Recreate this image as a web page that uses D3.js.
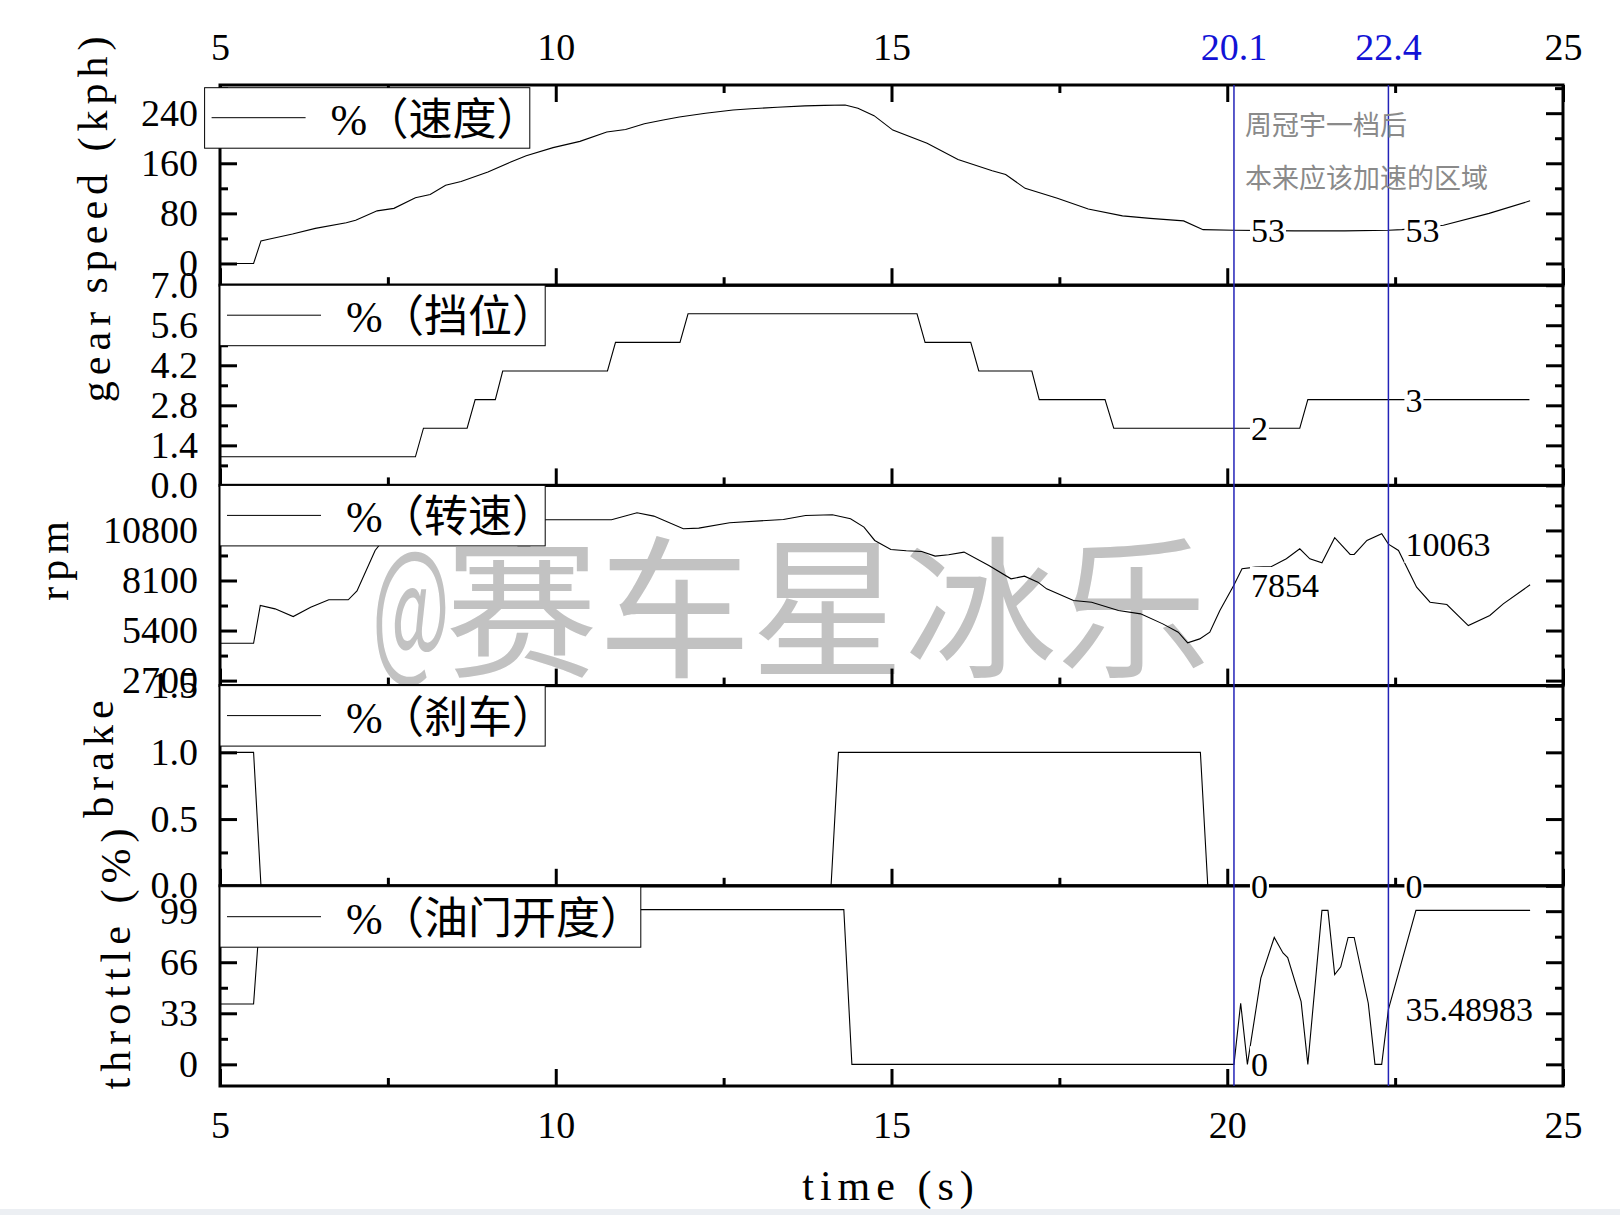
<!DOCTYPE html>
<html>
<head>
<meta charset="utf-8">
<script src="https://cdn.jsdelivr.net/npm/d3@7"></script>
<style>
  body { margin: 0; background: #fff; }
</style>
</head>
<body>
<svg id="chart" width="1620" height="1215"></svg>
<script>

// values
var speedT = [5, 5.5, 5.61, 5.74, 6.08, 6.42, 6.88, 7.02, 7.34, 7.59, 7.91, 8.13, 8.36, 8.59, 8.99, 9.33, 9.56, 9.96, 10.36, 10.76, 11.04, 11.32, 11.6, 11.84, 12.23, 12.64, 12.91, 13.3, 13.71, 14.0, 14.31, 14.5, 14.74, 15.02, 15.53, 15.99, 16.5, 16.7, 16.99, 17.47, 17.93, 18.44, 18.85, 19.35, 19.64, 20.1, 21.0, 21.75, 22.4, 22.6, 23.22, 23.9, 24.51];
var speedV = [0, 0, 36, 39, 47, 56, 65, 69, 84, 88, 105, 110, 125, 131, 146, 162, 172, 185, 195, 210, 214, 223, 229, 234, 240, 245, 247, 249.5, 251.7, 252.5, 253, 248, 236, 213, 192, 166, 148, 142, 120, 104, 87, 76, 72, 68, 54, 53, 52, 52, 53, 54, 61, 80, 100];

var gearT = [5, 7.91, 8.03, 8.68, 8.8, 9.1, 9.21, 10.77, 10.89, 11.85, 11.97, 15.38, 15.5, 16.18, 16.3, 17.09, 17.2, 18.18, 18.31, 21.08, 21.2, 24.5];
var gearV = [1, 1, 2, 2, 3, 3, 4, 4, 5, 5, 6, 6, 5, 5, 4, 4, 3, 3, 2, 2, 3, 3];

var rpmT = [5, 5.5, 5.6, 5.82, 6.09, 6.35, 6.62, 6.91, 7.04, 7.31, 7.5, 7.8, 8.5, 9.2, 9.87, 10.83, 11.21, 11.46, 11.9, 12.13, 12.59, 13.39, 13.72, 14.12, 14.39, 14.59, 14.75, 14.99, 15.22, 15.45, 15.65, 15.85, 16.08, 16.45, 16.78, 16.98, 17.18, 17.31, 17.71, 17.98, 18.38, 18.71, 19.04, 19.27, 19.41, 19.59, 19.74, 19.89, 20.1, 20.22, 20.42, 20.66, 20.88, 21.08, 21.23, 21.41, 21.6, 21.83, 21.89, 22.08, 22.3, 22.4, 22.55, 22.82, 23.02, 23.27, 23.59, 23.91, 24.11, 24.51];
var rpmV = [4714, 4714, 6750, 6570, 6156, 6660, 7060, 7060, 7540, 9720, 10600, 11200, 11300, 11350, 11378, 11378, 11754, 11574, 10892, 10924, 11214, 11394, 11610, 11646, 11430, 10980, 10260, 9774, 9702, 9666, 9414, 9486, 9630, 8910, 8190, 8334, 8010, 7650, 7020, 6930, 6480, 6300, 5760, 5310, 4740, 4950, 5310, 6480, 7854, 8730, 8820, 8856, 9270, 9810, 9270, 9054, 10406, 9504, 9504, 10260, 10620, 10063, 9720, 7740, 6930, 6804, 5670, 6210, 6840, 7868];

var brakeT = [5, 5.5, 5.61, 14.1, 14.21, 19.6, 19.71, 24.51];
var brakeV = [1, 1, 0, 0, 1, 1, 0, 0];

var throttleT = [5, 5.5, 5.56, 5.65, 14.29, 14.41, 20.1, 20.2, 20.3, 20.5, 20.7, 20.83, 20.9, 21.1, 21.2, 21.41, 21.5, 21.6, 21.69, 21.8, 21.89, 22.1, 22.2, 22.3, 22.4, 22.81, 24.51];
var throttleV = [39, 39, 75, 100, 100, 0, 0, 39.5, 0, 55.7, 82, 72, 69, 40.5, 0, 99.5, 99.5, 58, 63, 82, 82, 39.5, 0, 0, 35.48983, 99.5, 99.5];

// axis ranges and ticks
var speedDomain = [-34.7, 285], speedTicks = [0, 80, 160, 240], speedMinor = [40, 120, 200, 280];
var gearDomain = [0, 7], gearTicks = [0, 1.4, 2.8, 4.2, 5.6, 7.0], gearMinor = [0.7, 2.1, 3.5, 4.9, 6.3];
var rpmDomain = [2430, 13230], rpmTicks = [2700, 5400, 8100, 10800], rpmMinor = [4050, 6750, 9450, 12150];
var brakeDomain = [0, 1.5], brakeTicks = [0, 0.5, 1.0, 1.5], brakeMinor = [0.25, 0.75, 1.25];
var throttleDomain = [-14, 115.4], throttleTicks = [0, 33, 66, 99], throttleMinor = [16.5, 49.5, 82.5];

var xDomain = [5, 25], xMajor = [5, 10, 15, 20, 25], xMinor = [7.5, 12.5, 17.5, 22.5];
var topLabels = [5, 10, 15, 25];

var legendNames = ["（速度）", "（挡位）", "（转速）", "（刹车）", "（油门开度）"];
var yTitles = ["speed (kph)", "gear", "rpm", "brake", "throttle (%)"];
var xTitle = "time (s)";

// vertical cursors and the values Origin printed on them
var cursorTimes = [20.1, 22.4];
var cursorA = [53, 2, 7854, 0, 0];
var cursorB = [53, 3, 10063, 0, 35.48983];

var noteLines = ["周冠宇一档后", "本来应该加速的区域"];
var watermarkAt = "@";
var watermarkText = "赛车星冰乐";

// ---------------------------------------------------------------

var serif = "'Liberation Serif', 'Noto Sans CJK SC', serif";
var cjk = "'Noto Sans CJK SC', sans-serif";
var plotLeft = 220, plotRight = 1563, plotTop = 85, panelH = 200.2;
var blueLine = "#2323b8", blueText = "#1212d6";

var svg = d3.select("#chart");
svg.append("rect").attr("width", 1620).attr("height", 1215).attr("fill", "#fff");
// light strip at the very bottom of the screenshot
svg.append("rect").attr("x", 0).attr("y", 1209).attr("width", 1620).attr("height", 6).attr("fill", "#eceff3");

var x = d3.scaleLinear().domain(xDomain).range([plotLeft, plotRight]);

var fmtInt = d3.format("d"), fmt1 = d3.format(".1f");
var panels = [
  {t: speedT, v: speedV, domain: speedDomain, major: speedTicks, minor: speedMinor, fmt: fmtInt},
  {t: gearT, v: gearV, domain: gearDomain, major: gearTicks, minor: gearMinor, fmt: fmt1},
  {t: rpmT, v: rpmV, domain: rpmDomain, major: rpmTicks, minor: rpmMinor, fmt: fmtInt},
  {t: brakeT, v: brakeV, domain: brakeDomain, major: brakeTicks, minor: brakeMinor, fmt: fmt1},
  {t: throttleT, v: throttleV, domain: throttleDomain, major: throttleTicks, minor: throttleMinor, fmt: fmtInt}
];

// where each title sits (x of baseline, y of centre)
var titlePos = [[107, 162], [110, 354], [68, 558], [113, 756], [130, 956]];
// legend boxes: Origin shifted the first one left of the axis
var legendShift = [[-15.4, 2.7], [0, 0], [0, 0], [0, 0], [0, 0.9]];

var gWater = svg.append("g");
var gLines = svg.append("g");
var gAxes = svg.append("g");
var gLegend = svg.append("g");
var gCursor = svg.append("g");
var gLabels = svg.append("g");

// watermark
gWater.append("text")
  .attr("x", 372).attr("y", 660)
  .attr("font-family", cjk).attr("font-size", 150)
  .attr("textLength", 78).attr("lengthAdjust", "spacingAndGlyphs")
  .attr("fill", "#c2c2c2")
  .text(watermarkAt);
gWater.append("text")
  .attr("x", 445).attr("y", 666)
  .attr("font-family", cjk).attr("font-size", 153)
  .attr("fill", "#c2c2c2")
  .text(watermarkText);

function styleAxis(g) {
  g.select(".domain").remove();
  g.selectAll("line").attr("stroke", "#000").attr("stroke-width", 3);
  g.attr("font-family", serif).attr("font-size", 38);
  g.selectAll("text").attr("fill", "#000");
}

panels.forEach(function(p, i) {
  var y0 = plotTop + i * panelH, y1 = y0 + panelH;
  p.y = d3.scaleLinear().domain(p.domain).range([y1, y0]);

  var line = d3.line()
    .x(function(d) { return x(d[0]); })
    .y(function(d) { return p.y(d[1]); });

  gLines.append("path")
    .datum(d3.zip(p.t, p.v))
    .attr("d", line)
    .attr("fill", "none")
    .attr("stroke", "#000")
    .attr("stroke-width", 1.1);

  var ga = gAxes.append("g");

  // left, labelled
  ga.append("g").attr("transform", "translate(" + plotLeft + ",0)")
    .call(d3.axisLeft(p.y).tickValues(p.major).tickFormat(p.fmt).tickSize(-17).tickPadding(22))
    .call(styleAxis);
  ga.append("g").attr("transform", "translate(" + plotLeft + ",0)")
    .call(d3.axisLeft(p.y).tickValues(p.minor).tickFormat("").tickSize(-8))
    .call(styleAxis);
  // right
  ga.append("g").attr("transform", "translate(" + plotRight + ",0)")
    .call(d3.axisRight(p.y).tickValues(p.major).tickFormat("").tickSize(-17))
    .call(styleAxis);
  ga.append("g").attr("transform", "translate(" + plotRight + ",0)")
    .call(d3.axisRight(p.y).tickValues(p.minor).tickFormat("").tickSize(-8))
    .call(styleAxis);
  // bottom of each panel, ticks pointing up
  ga.append("g").attr("transform", "translate(0," + y1 + ")")
    .call(d3.axisBottom(x).tickValues(xMajor)
      .tickFormat(i === panels.length - 1 ? fmtInt : "").tickSize(-17).tickPadding(25))
    .call(styleAxis);
  ga.append("g").attr("transform", "translate(0," + y1 + ")")
    .call(d3.axisBottom(x).tickValues(xMinor).tickFormat("").tickSize(-8))
    .call(styleAxis);

  if (i === 0) {
    ga.append("g").attr("transform", "translate(0," + y0 + ")")
      .call(d3.axisTop(x).tickValues(xMajor)
        .tickFormat(function(d) { return topLabels.indexOf(d) >= 0 ? d : ""; })
        .tickSize(-17).tickPadding(25))
      .call(styleAxis);
    ga.append("g").attr("transform", "translate(0," + y0 + ")")
      .call(d3.axisTop(x).tickValues(xMinor).tickFormat("").tickSize(-8))
      .call(styleAxis);
  }

  ga.append("rect")
    .attr("x", plotLeft).attr("y", y0)
    .attr("width", plotRight - plotLeft).attr("height", panelH)
    .attr("fill", "none").attr("stroke", "#000").attr("stroke-width", 3);

  // y title
  ga.append("text")
    .attr("transform", "translate(" + titlePos[i][0] + "," + titlePos[i][1] + ") rotate(-90)")
    .attr("text-anchor", "middle")
    .attr("font-family", serif).attr("font-size", 42)
    .attr("letter-spacing", 6)
    .text(yTitles[i]);

  // legend
  var n = legendNames[i].length;
  var bx = plotLeft + legendShift[i][0], by = y0 + legendShift[i][1];
  var lg = gLegend.append("g");
  lg.append("rect")
    .attr("x", bx).attr("y", by)
    .attr("width", 134 + n * 47.8).attr("height", 60.5)
    .attr("fill", "#fff").attr("stroke", "#000").attr("stroke-width", 1);
  lg.append("line")
    .attr("x1", bx + 7).attr("x2", bx + 101)
    .attr("y1", by + 30).attr("y2", by + 30)
    .attr("stroke", "#000").attr("stroke-width", 1);
  var lt = lg.append("text")
    .attr("y", by + 47)
    .attr("font-family", serif).attr("font-size", 44);
  lt.append("tspan").attr("x", bx + 126).text("%");
  lt.append("tspan").attr("x", bx + 160).attr("font-family", cjk).text(legendNames[i]);
});

// x title
gAxes.append("text")
  .attr("x", 891).attr("y", 1200)
  .attr("text-anchor", "middle")
  .attr("font-family", serif).attr("font-size", 42)
  .attr("letter-spacing", 6)
  .text(xTitle);

// cursors
[cursorA, cursorB].forEach(function(vals, c) {
  var cx = x(cursorTimes[c]);
  gCursor.append("line")
    .attr("x1", cx).attr("x2", cx)
    .attr("y1", plotTop).attr("y2", plotTop + 5 * panelH)
    .attr("stroke", blueLine).attr("stroke-width", 1.5);
  gCursor.append("text")
    .attr("x", cx).attr("y", 60)
    .attr("text-anchor", "middle")
    .attr("font-family", serif).attr("font-size", 38)
    .attr("fill", blueText)
    .text(cursorTimes[c]);

  vals.forEach(function(v, i) {
    var g = gLabels.append("g");
    var bg = g.append("rect").attr("fill", "#fff");
    var t = g.append("text")
      .attr("x", cx + 17).attr("y", panels[i].y(v))
      .attr("dy", "0.35em")
      .attr("font-family", serif).attr("font-size", 34)
      .attr("fill", "#000")
      .text(String(v));
    var b = t.node().getBBox();
    bg.attr("x", b.x - 1).attr("y", b.y).attr("width", b.width + 2).attr("height", b.height);
  });
});

// note in the first panel
noteLines.forEach(function(s, k) {
  gLabels.append("text")
    .attr("x", 1245).attr("y", 135 + k * 52.5)
    .attr("font-family", cjk).attr("font-size", 27)
    .attr("fill", "#8a8a8a")
    .text(s);
});

</script>
</body>
</html>
